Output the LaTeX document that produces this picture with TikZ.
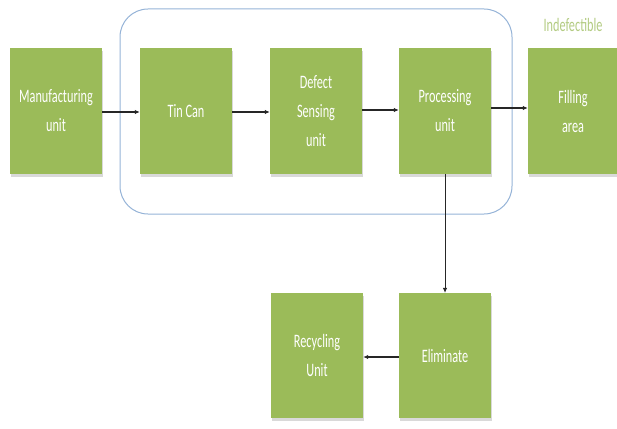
\documentclass[tikz,border=0pt]{standalone}
\usepackage{fontspec}
\setmainfont{Carlito}
\newfontfamily\condfont[FakeStretch=0.645]{Carlito}
\usetikzlibrary{arrows.meta,shadows}
\definecolor{boxgreen}{HTML}{9BBB59}
\definecolor{lightgreen}{HTML}{B3CB82}
\definecolor{frameblue}{HTML}{95B3D7}
\begin{document}
\begin{tikzpicture}[x=1pt,y=-1pt,
  unitbox/.style={fill=boxgreen, minimum width=92pt, minimum height=126pt, inner sep=0pt,
    text=white, font=\condfont\fontsize{19}{29}\selectfont, align=center,
    drop shadow={shadow xshift=1pt, shadow yshift=-3pt, fill=black!25, opacity=0.6}},
  conn/.style={-{Latex[length=5pt,width=4.5pt]}, line width=1.3pt, draw=black!85}]
\useasboundingbox (0,0) rectangle (617,428);
\draw[frameblue, line width=1pt, rounded corners=28pt] (120,9) rectangle (512,214);
\node[unitbox] (man) at (56,111) {Manufacturing\\unit};
\node[unitbox] (tin) at (186,111) {Tin Can};
\node[unitbox] (def) at (316,111) {Defect\\Sensing\\unit};
\node[unitbox] (pro) at (445,111) {Processing\\unit};
\node[unitbox, minimum width=90pt] (fil) at (573,111) {Filling\\area};
\node[unitbox, minimum height=125pt] (rec) at (317,355.5) {Recycling\\Unit};
\node[unitbox, minimum height=125pt] (eli) at (445,355.5) {Eliminate};
\node[text=lightgreen, font=\condfont\fontsize{19}{29}\selectfont] (ind) at (573,25) {Indefectible};
\draw[conn] (man.east |- 0,112) -- (tin.west |- 0,112);
\draw[conn] (tin.east |- 0,112) -- (def.west |- 0,112);
\draw[conn] (def.east |- 0,110) -- (pro.west |- 0,110);
\draw[conn] (pro.east |- 0,108) -- (fil.west |- 0,108);
\draw[conn, line width=0.8pt] (pro.south) -- (eli.north);
\draw[conn] (eli.west |- 0,357) -- (rec.east |- 0,357);
\end{tikzpicture}
\end{document}
